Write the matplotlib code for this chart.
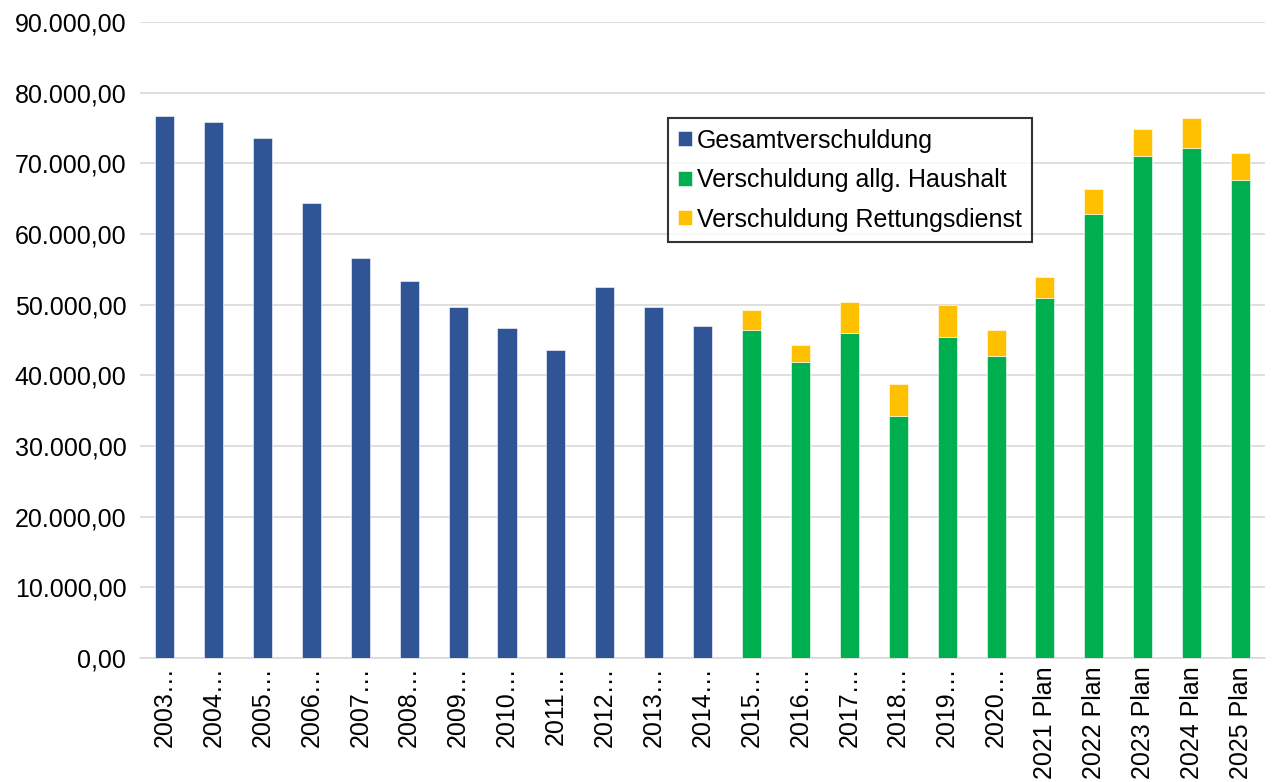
import matplotlib.pyplot as plt
import numpy as np
from matplotlib.ticker import FuncFormatter, MultipleLocator

plt.rcParams['font.family'] = ['Liberation Sans', 'DejaVu Sans']

labels = [
    "2003…", "2004…", "2005…", "2006…", "2007…", "2008…", "2009…",
    "2010…", "2011…", "2012…", "2013…", "2014…", "2015…", "2016…",
    "2017…", "2018…", "2019…", "2020…", "2021 Plan", "2022 Plan",
    "2023 Plan", "2024 Plan", "2025 Plan",
]

gesamt = [
    76700, 75850, 73600, 64400, 56650, 53400, 49700,
    46750, 43550, 52450, 49650, 46950,
]

haushalt = [
    46450, 41900, 46000, 34250, 45400, 42750,
    50900, 62850, 71050, 72200, 67650,
]

rettung = [
    2800, 2400, 4400, 4500, 4500, 3700,
    3000, 3500, 3800, 4200, 3800,
]

blue = "#2F5597"
green = "#00B050"
yellow = "#FFC000"

n = len(labels)
x = np.arange(n)
x_old = x[:len(gesamt)]
x_new = x[len(gesamt):]

fig = plt.figure(figsize=(12.86, 7.82), dpi=100)
ax = fig.add_axes([0.109, 0.1586, 0.8747, 0.8133])

w = 0.39
ax.bar(x_old, gesamt, width=w, color=blue, label="Gesamtverschuldung",
       edgecolor="white", linewidth=0.4, zorder=3)
ax.bar(x_new, haushalt, width=w, color=green,
       label="Verschuldung allg. Haushalt",
       edgecolor="white", linewidth=0.4, zorder=3)
ax.bar(x_new, rettung, width=w, bottom=haushalt, color=yellow,
       label="Verschuldung Rettungsdienst",
       edgecolor="white", linewidth=0.4, zorder=3)

ax.set_xlim(-0.5, n - 0.5)
ax.set_ylim(0, 90000)
ax.yaxis.set_major_locator(MultipleLocator(10000))


def de_fmt(v, pos):
    s = f"{v:,.2f}"
    return s.replace(",", "X").replace(".", ",").replace("X", ".")


ax.yaxis.set_major_formatter(FuncFormatter(de_fmt))
ax.grid(axis="y", color="#d9d9d9", linewidth=1.2, zorder=0)

fs = 18
ax.set_xticks(x)
ax.set_xticklabels(labels, rotation=90, fontsize=fs)
ax.tick_params(axis="y", labelsize=fs, length=0, pad=10)
ax.tick_params(axis="x", length=0, pad=6)

for side in ["top", "right", "left"]:
    ax.spines[side].set_visible(False)
ax.spines["bottom"].set_color("#d9d9d9")
ax.spines["bottom"].set_linewidth(1.2)

leg = ax.legend(
    loc="upper left",
    bbox_to_anchor=(0.469, 0.849),
    fontsize=fs,
    frameon=True,
    fancybox=False,
    edgecolor="black",
    handlelength=0.55,
    handleheight=0.55,
    handletextpad=0.2,
    labelspacing=0.62,
    borderpad=0.42,
    borderaxespad=0,
)
leg.get_frame().set_linewidth(1.5)

plt.savefig("out.png", dpi=100)
